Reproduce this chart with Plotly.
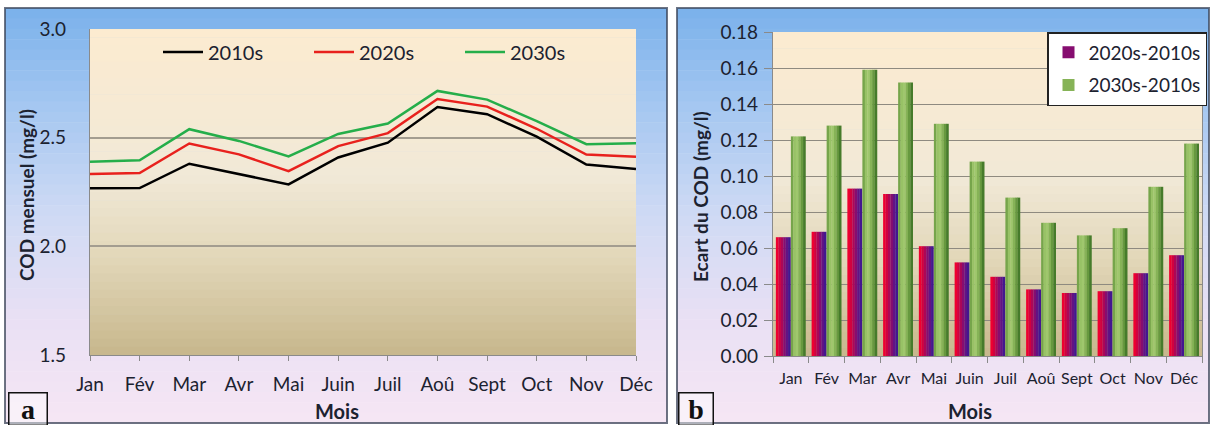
import plotly.graph_objects as go

# ---------------- data ----------------
months = ["Jan", "Fév", "Mar", "Avr", "Mai", "Juin", "Juil", "Aoû", "Sept", "Oct", "Nov", "Déc"]
cod_2010s = [2.267, 2.268, 2.380, 2.333, 2.285, 2.409, 2.477, 2.641, 2.608, 2.505, 2.376, 2.356]
cod_2020s = [2.333, 2.337, 2.473, 2.423, 2.346, 2.461, 2.521, 2.678, 2.643, 2.541, 2.422, 2.412]
cod_2030s = [2.389, 2.396, 2.539, 2.485, 2.414, 2.517, 2.565, 2.715, 2.675, 2.576, 2.470, 2.474]
diff_2020 = [0.066, 0.069, 0.093, 0.090, 0.061, 0.052, 0.044, 0.037, 0.035, 0.036, 0.046, 0.056]
diff_2030 = [0.122, 0.128, 0.159, 0.152, 0.129, 0.108, 0.088, 0.074, 0.067, 0.071, 0.094, 0.118]
left_yticks = [1.5, 2.0, 2.5, 3.0]
right_yticks = [0.00, 0.02, 0.04, 0.06, 0.08, 0.10, 0.12, 0.14, 0.16, 0.18]

W, H = 1213, 425
FONT = "Lato"
TXT = "#1c2230"


def px(x):
    return x / W


def py(y):
    return 1 - y / H


def hex2rgb(h):
    h = h.lstrip("#")
    return tuple(int(h[i:i + 2], 16) for i in (0, 2, 4))


def interp(stops, t):
    for i in range(len(stops) - 1):
        t0, c0 = stops[i]
        t1, c1 = stops[i + 1]
        if t0 <= t <= t1:
            f = 0 if t1 == t0 else (t - t0) / (t1 - t0)
            a, b = hex2rgb(c0), hex2rgb(c1)
            return "rgb(%d,%d,%d)" % tuple(round(a[k] + (b[k] - a[k]) * f) for k in range(3))
    return stops[-1][1]


def vgrad(x0, x1, y0, y1, stops, n=40):
    out = []
    h = (y1 - y0) / n
    for i in range(n):
        t = (i + 0.5) / n
        out.append(dict(type="rect", xref="paper", yref="paper", layer="below",
                        x0=px(x0), x1=px(x1), y0=py(y0 + i * h), y1=py(y0 + (i + 1) * h + 0.6),
                        line=dict(width=0), fillcolor=interp(stops, t)))
    return out


panel_stops = [(0, "#7AB1EB"), (0.25, "#A7C8F1"), (0.5, "#CFDAF4"), (0.75, "#E9E0F4"), (1, "#F6E6F4")]
plot_stops = [(0, "#FCEBD0"), (0.45, "#F1E9D7"), (0.7, "#E2D7B9"), (1, "#C7B78C")]

shapes = []
shapes += vgrad(5, 667, 8, 423, panel_stops)
shapes += vgrad(677, 1209, 8, 423, panel_stops)
shapes += vgrad(90, 636, 29, 355, plot_stops)
shapes += vgrad(773, 1202, 32, 356, plot_stops)
for (a, b) in [(5, 667), (677, 1209)]:
    shapes.append(dict(type="rect", xref="paper", yref="paper", layer="below",
                       x0=px(a), x1=px(b), y0=py(423), y1=py(8),
                       line=dict(color="rgba(60,70,90,0.75)", width=2), fillcolor="rgba(0,0,0,0)"))

fig = go.Figure()

# ---------------- left panel: lines ----------------
for name, vals, col in [("2010s", cod_2010s, "#000000"),
                        ("2020s", cod_2020s, "#E8211D"),
                        ("2030s", cod_2030s, "#25AE4A")]:
    fig.add_trace(go.Scatter(x=months, y=vals, mode="lines", name=name,
                             line=dict(color=col, width=2.5),
                             xaxis="x", yaxis="y", legend="legend"))

# ---------------- right panel: bars (gradient slices) ----------------
red_cols = ["#EE0030", "#D0023F", "#AC0757", "#860D70", "#621384", "#43178F"]
green_cols = ["#76A54B", "#98C266", "#9FC76D", "#86B357", "#67993F", "#467B2B"]
n = 6
bw = 0.41
for vals, cols, start, name in [(diff_2020, red_cols, -0.42, "2020s-2010s"),
                                (diff_2030, green_cols, 0.0, "2030s-2010s")]:
    sw = bw / n
    for i in range(n):
        fig.add_trace(go.Bar(x=months, y=vals, width=sw + 0.006, offset=start + i * sw,
                             marker=dict(color=cols[i], line=dict(width=0)),
                             name=name, showlegend=(i == 3), legendgroup=name,
                             xaxis="x2", yaxis="y2", legend="legend2"))

axis_common = dict(showline=True, linecolor="#8a8a8a", linewidth=1.2, zeroline=False,
                   automargin=False)

ann_common = dict(xref="paper", yref="paper", xanchor="center", yanchor="middle", showarrow=False)

fig.update_layout(
    template="none",
    width=W, height=H, margin=dict(l=0, r=0, t=0, b=0, pad=0), autosize=False,
    paper_bgcolor="white", plot_bgcolor="rgba(0,0,0,0)",
    barmode="overlay", shapes=shapes,
    font=dict(family=FONT, color=TXT),
    xaxis=dict(domain=[px(90), px(636)], anchor="y", type="category", range=[0, 11],
               ticks="outside", ticklen=5, tickcolor="#8a8a8a", showgrid=False,
               tickangle=0, ticklabelstandoff=7,
               tickfont=dict(family=FONT, size=19, color=TXT), **axis_common),
    yaxis=dict(domain=[py(355), py(29)], anchor="x", range=[1.5, 3.0], tickvals=left_yticks,
               tickformat=".1f", showgrid=True, gridcolor="#a39d90", gridwidth=1.5,
               ticks="", ticklabelstandoff=19,
               tickfont=dict(family=FONT, size=19, color=TXT), **axis_common),
    xaxis2=dict(domain=[px(773), px(1202)], anchor="y2", type="category", range=[-0.5, 11.5],
                ticks="outside", ticklen=6, tickcolor="#8a8a8a", tickson="boundaries",
                showgrid=False, tickangle=0, ticklabelstandoff=8,
                tickfont=dict(family=FONT, size=16, color=TXT), **axis_common),
    yaxis2=dict(domain=[py(356), py(32)], anchor="x2", range=[0, 0.18], tickvals=right_yticks,
                tickformat=".2f", showgrid=True, gridcolor="#8e8a80", gridwidth=1,
                ticks="outside", ticklen=8, tickcolor="#8a8a8a", ticklabelstandoff=2,
                mirror=True, tickfont=dict(family=FONT, size=19, color=TXT), **axis_common),
    legend=dict(orientation="h", x=px(158), y=py(52), xanchor="left", yanchor="middle",
                bgcolor="rgba(0,0,0,0)", font=dict(family=FONT, size=20, color=TXT),
                entrywidth=96, entrywidthmode="pixels", itemwidth=40),
    legend2=dict(orientation="v", x=px(1047), y=py(32), xanchor="left", yanchor="top",
                 bgcolor="white", bordercolor="#222222", borderwidth=1.5,
                 font=dict(family=FONT, size=19, color=TXT), tracegroupgap=5,
                 itemwidth=30),
    annotations=[
        dict(text="<b>COD mensuel (mg/l)</b>", x=px(27), y=py(195), textangle=-90,
             font=dict(family=FONT, size=19, color=TXT), **ann_common),
        dict(text="<b>Ecart du COD (mg/l)</b>", x=px(700), y=py(197), textangle=-90,
             font=dict(family=FONT, size=19, color=TXT), **ann_common),
        dict(text="<b>Mois</b>", x=px(337), y=py(411),
             font=dict(family=FONT, size=20, color=TXT), **ann_common),
        dict(text="<b>Mois</b>", x=px(970), y=py(411),
             font=dict(family=FONT, size=20, color=TXT), **ann_common),
        dict(text="<b>a</b>", x=px(27.5), y=py(409),
             width=37, height=31, bordercolor="#111111", borderwidth=1.5, borderpad=0,
             bgcolor="rgba(255,255,255,0.45)",
             font=dict(family="Liberation Serif", size=28, color="#111111"), **ann_common),
        dict(text="<b>b</b>", x=px(695.5), y=py(409),
             width=33, height=31, bordercolor="#111111", borderwidth=1.5, borderpad=0,
             bgcolor="rgba(255,255,255,0.45)",
             font=dict(family="Liberation Serif", size=28, color="#111111"), **ann_common),
    ],
)

fig.write_html("out.html", config={"displayModeBar": False},
               post_script="document.body.style.margin='0';document.body.style.overflow='hidden';")
